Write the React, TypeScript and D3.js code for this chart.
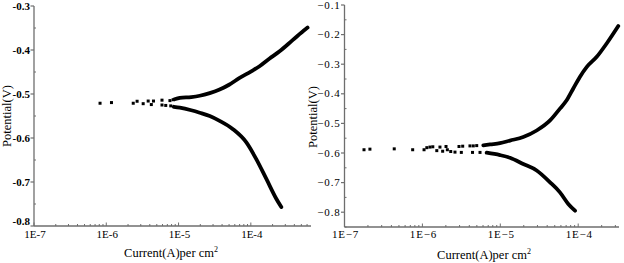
import React from 'react';
import * as d3 from 'd3';

// ---------- data ----------
const xTickValues = [1e-7, 1e-6, 1e-5, 1e-4];
const xTickLabels = ['1E-7', '1E-6', '1E-5', '1E-4'];
const leftYTicks = [-0.8, -0.7, -0.6, -0.5, -0.4, -0.3];
const rightYTicks = [-0.8, -0.7, -0.6, -0.5, -0.4, -0.3, -0.2, -0.1];
const xTitle = 'Current(A)per cm';
const yTitle = 'Potential(V)';

// left panel
const leftScatterCurrent = [8.2e-7, 1.18e-6, 2.36e-6, 2.67e-6, 3.24e-6, 3.8e-6, 4.2e-6, 4.5e-6, 5.9e-6, 5.9e-6, 6.65e-6, 7.6e-6, 7.8e-6, 8.4e-6];
const leftScatterPotential = [-0.521, -0.5195, -0.521, -0.5165, -0.522, -0.516, -0.524, -0.516, -0.514, -0.525, -0.526, -0.515, -0.527, -0.513];
const leftAnodicCurrent = [8.8e-6, 1.04e-5, 1.5e-5, 1.96e-5, 2.7e-5, 3.7e-5, 5e-5, 7e-5, 1e-4, 1.32e-4, 1.8e-4, 2.5e-4, 3.82e-4, 5.7e-4, 6.1e-4];
const leftAnodicPotential = [-0.512, -0.509, -0.507, -0.504, -0.498, -0.49, -0.479, -0.4635, -0.449, -0.437, -0.42, -0.403, -0.377, -0.3527, -0.349];
const leftCathodicCurrent = [8.6e-6, 1.04e-5, 1.5e-5, 1.96e-5, 2.7e-5, 3.7e-5, 5.66e-5, 8.67e-5, 1.19e-4, 1.64e-4, 2.25e-4, 2.64e-4];
const leftCathodicPotential = [-0.529, -0.531, -0.537, -0.5425, -0.55, -0.561, -0.58, -0.61, -0.648, -0.693, -0.738, -0.757];

// right panel
const rightScatterCurrent = [1.78e-7, 2.12e-7, 4.35e-7, 7.5e-7, 1.05e-6, 1.14e-6, 1.25e-6, 1.36e-6, 1.53e-6, 1.68e-6, 1.82e-6, 2.01e-6, 2.09e-6, 2.31e-6, 2.62e-6, 2.95e-6, 3.16e-6, 3.29e-6, 4.08e-6, 4.5e-6, 4.4e-6, 4.98e-6, 5.49e-6];
const rightScatterPotential = [-0.589, -0.587, -0.586, -0.589, -0.589, -0.582, -0.58, -0.579, -0.592, -0.58, -0.594, -0.578, -0.589, -0.595, -0.597, -0.578, -0.598, -0.577, -0.576, -0.576, -0.598, -0.575, -0.598];
const rightAnodicCurrent = [6.05e-6, 7.4e-6, 9.9e-6, 1.33e-5, 1.97e-5, 2.93e-5, 4.35e-5, 5.83e-5, 7.11e-5, 8.65e-5, 1.05e-4, 1.29e-4, 1.73e-4, 2.32e-4, 3.27e-4];
const rightAnodicPotential = [-0.574, -0.571, -0.567, -0.558, -0.546, -0.524, -0.49, -0.45, -0.422, -0.382, -0.343, -0.309, -0.275, -0.23, -0.171];
const rightCathodicCurrent = [6.68e-6, 9.9e-6, 1.33e-5, 1.97e-5, 2.93e-5, 4.35e-5, 5.83e-5, 7.46e-5, 9.1e-5];
const rightCathodicPotential = [-0.599, -0.607, -0.616, -0.637, -0.659, -0.699, -0.733, -0.772, -0.795];

const SERIF = 'Liberation Serif, Times New Roman, serif';
const AXIS = '#6e6e6e';

type PanelProps = {
  xDomain: [number, number];
  xRange: [number, number];
  yDomain: [number, number];
  yRange: [number, number];
  yTicks: number[];
  yTickFmt: (v: number) => string;
  xTickFmt: (s: string) => string;
  yTickBold: boolean;
  tickLetterSpacing: number;
  scatterX: number[];
  scatterY: number[];
  branches: [number[], number[]][];
  titleX: number;
  titleY: number;
  yTitleX: number;
  yTitleY: number;
  xLabelY: number;
};

function Panel(p: PanelProps) {
  const x = d3.scaleLog().domain(p.xDomain).range(p.xRange);
  const y = d3.scaleLinear().domain(p.yDomain).range(p.yRange);
  const axisY = p.yRange[0];
  const axisX = p.xRange[0];
  const minorX = x.ticks().filter((v) => v <= p.xDomain[1]);
  const minorY: number[] = [];
  for (let i = 0; i < p.yTicks.length; i++) {
    const v = p.yTicks[i] + 0.05;
    if (v <= p.yDomain[1] + 1e-9) minorY.push(v);
  }
  if (p.yDomain[0] < p.yTicks[0] - 1e-9) minorY.push(p.yTicks[0] - 0.05);
  return (
    <g>
      {/* data */}
      {p.branches.map(([cx, cy], bi) => {
        const gen = d3
          .line<number>()
          .x((_, i) => x(cx[i]))
          .y((_, i) => y(cy[i]))
          .curve(d3.curveMonotoneX);
        return (
          <path
            key={bi}
            d={gen(cx) || ''}
            fill="none"
            stroke="#000"
            strokeWidth={3.8}
            strokeLinecap="round"
            strokeLinejoin="round"
          />
        );
      })}
      {p.scatterX.map((v, i) => (
        <rect key={i} x={x(v) - 1.5} y={y(p.scatterY[i]) - 1.5} width={3} height={3} fill="#000" />
      ))}
      {/* axes */}
      <line x1={axisX} x2={p.xRange[1]} y1={axisY} y2={axisY} stroke={AXIS} strokeWidth={1.3} />
      <line x1={axisX} x2={axisX} y1={axisY} y2={p.yRange[1]} stroke={AXIS} strokeWidth={1.3} />
      {minorX.map((v, i) => {
        const major = xTickValues.some((t) => Math.abs(t - v) / t < 1e-6);
        return (
          <line key={i} x1={x(v)} x2={x(v)} y1={axisY} y2={axisY - (major ? 3.5 : 2)} stroke={AXIS} strokeWidth={1} />
        );
      })}
      {p.yTicks.map((v, i) => (
        <line key={i} x1={axisX - 3.5} x2={axisX} y1={y(v)} y2={y(v)} stroke={AXIS} strokeWidth={1.2} />
      ))}
      {minorY.map((v, i) => (
        <line key={i} x1={axisX} x2={axisX + 2} y1={y(v)} y2={y(v)} stroke={AXIS} strokeWidth={1} />
      ))}
      {/* tick labels */}
      {p.yTicks.map((v, i) => (
        <text
          key={i}
          x={axisX - 4}
          y={Math.min(y(v) + 3.5, axisY - 1)}
          textAnchor="end"
          fontFamily={SERIF}
          fontSize={11}
          fontWeight={p.yTickBold ? 'bold' : 'normal'}
          letterSpacing={p.tickLetterSpacing}
          fill="#000"
        >
          {p.yTickFmt(v)}
        </text>
      ))}
      {xTickValues.map((v, i) => (
        <text
          key={i}
          x={x(v) + 1}
          y={p.xLabelY}
          textAnchor="middle"
          fontFamily={SERIF}
          fontSize={11}
          letterSpacing={p.tickLetterSpacing}
          fill="#000"
        >
          {p.xTickFmt(xTickLabels[i])}
        </text>
      ))}
      {/* titles */}
      <text x={p.titleX} y={p.titleY} textAnchor="middle" fontFamily={SERIF} fontSize={12.5} fill="#000">
        {xTitle}
        <tspan dy={-5} fontSize={8}>
          2
        </tspan>
      </text>
      <text
        transform={`translate(${p.yTitleX},${p.yTitleY}) rotate(-90)`}
        textAnchor="middle"
        fontFamily={SERIF}
        fontSize={12.5}
        fill="#000"
      >
        {yTitle}
      </text>
    </g>
  );
}

export default function App() {
  return (
    <svg
      width={624}
      height={263}
      style={{ position: 'absolute', left: 0, top: 0, background: '#fff' }}
    >
      <rect width={624} height={263} fill="#fff" />
      <Panel
        xDomain={[1e-7, 6.8e-4]}
        xRange={[34, 311]}
        yDomain={[-0.8, -0.3]}
        yRange={[226, 6]}
        yTicks={leftYTicks}
        yTickFmt={(v) => v.toFixed(1)}
        xTickFmt={(s) => s}
        yTickBold={true}
        tickLetterSpacing={0}
        scatterX={leftScatterCurrent}
        scatterY={leftScatterPotential}
        branches={[
          [leftAnodicCurrent, leftAnodicPotential],
          [leftCathodicCurrent, leftCathodicPotential],
        ]}
        titleX={171}
        titleY={257}
        yTitleX={11}
        yTitleY={116}
        xLabelY={238}
      />
      <Panel
        xDomain={[1e-7, 3.34e-4]}
        xRange={[344.5, 619]}
        yDomain={[-0.85, -0.1]}
        yRange={[227, 5]}
        yTicks={rightYTicks}
        yTickFmt={(v) => v.toFixed(1).replace('-', '\u2212')}
        xTickFmt={(s) => s.replace('-', '\u2212')}
        yTickBold={false}
        tickLetterSpacing={0.8}
        scatterX={rightScatterCurrent}
        scatterY={rightScatterPotential}
        branches={[
          [rightAnodicCurrent, rightAnodicPotential],
          [rightCathodicCurrent, rightCathodicPotential],
        ]}
        titleX={484}
        titleY={259}
        yTitleX={317}
        yTitleY={117}
        xLabelY={238}
      />
    </svg>
  );
}
